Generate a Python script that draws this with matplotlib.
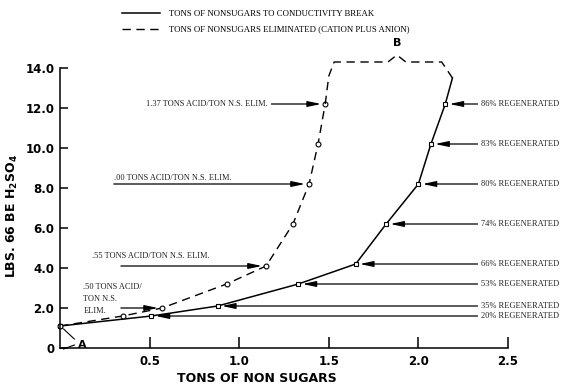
import matplotlib as mpl
mpl.use('Agg')
from matplotlib import pyplot as plt

# tons of nonsugars to conductivity break (solid, squares)
break_x = [0.0, 0.51, 0.88, 1.33, 1.65, 1.82, 2.00, 2.07, 2.15]
break_y = [1.1, 1.6, 2.1, 3.2, 4.2, 6.2, 8.2, 10.2, 12.2]
break_top = [2.19, 13.5]

# tons of nonsugars eliminated (dashed, circles)
elim_x = [0.0, 0.35, 0.57, 0.93, 1.15, 1.30, 1.39, 1.44, 1.48]
elim_y = [1.1, 1.6, 2.0, 3.2, 4.1, 6.2, 8.2, 10.2, 12.2]

# bracket joining the two curves at B
bracket_x = [1.48, 1.50, 1.53, 1.83, 1.88, 1.93, 2.13, 2.19]
bracket_y = [12.2, 13.6, 14.3, 14.3, 14.65, 14.3, 14.3, 13.5]

regen_labels = ['20% REGENERATED', '35% REGENERATED', '53% REGENERATED', '66% REGENERATED',
                '74% REGENERATED', '80% REGENERATED', '83% REGENERATED', '86% REGENERATED']

acid_labels = ['.50 TONS ACID/\nTON N.S.\nELIM.', '.55 TONS ACID/TON N.S. ELIM.',
               '.00 TONS ACID/TON N.S. ELIM.', '1.37 TONS ACID/TON N.S. ELIM.']
acid_points = [2, 4, 6, 8]

x_ticks = [0.5, 1.0, 1.5, 2.0, 2.5]
y_ticks = [0, 2, 4, 6, 8, 10, 12, 14]
y_ticklabels = ['0', '2.0', '4.0', '6.0', '8.0', '10.0', '12.0', '14.0']

small = dict(family='Liberation Serif', fontsize=6, color='#222222')
arrow = dict(arrowstyle='-|>,head_length=0.8,head_width=0.17', lw=0.9, color='black',
             shrinkA=0, shrinkB=3)

fig = plt.figure(figsize=(5.71, 3.85), dpi=100)
ax = fig.add_axes([60 / 571, 1 - 348 / 385, 448 / 571, 280 / 385])

ax.plot(break_x + [break_top[0]], break_y + [break_top[1]], color='black', lw=1.1,
        label='TONS OF NONSUGARS TO CONDUCTIVITY BREAK', clip_on=False)
ax.plot(break_x, break_y, 's', ms=3.5, mfc='white', mec='black', mew=0.8, clip_on=False)
ax.plot(elim_x, elim_y, color='black', lw=1.0, dashes=(6, 4),
        label='TONS OF NONSUGARS ELIMINATED (CATION PLUS ANION)', clip_on=False)
ax.plot(elim_x, elim_y, 'o', ms=3.5, mfc='white', mec='black', mew=0.8, clip_on=False)
ax.plot(bracket_x, bracket_y, color='black', lw=1.0, dashes=(6, 4), clip_on=False)
ax.text(1.88, 15.0, 'B', fontsize=8, fontweight='bold', ha='center', va='bottom')

# A marker near origin
ax.plot([0.02, 0.08], [0.95, 0.45], color='black', lw=0.8)
ax.plot([0.02, 0.08], [-0.05, 0.15], color='black', lw=0.8, clip_on=False)
ax.text(0.10, 0.15, 'A', fontsize=8, fontweight='bold', va='center')

# regeneration arrows (right side)
for lab, px, py in zip(regen_labels, break_x[1:], break_y[1:]):
    ax.annotate('', xy=(px, py), xytext=(2.33, py), arrowprops=arrow, annotation_clip=False)
    ax.text(2.35, py, lab, ha='left', va='center', **small)

# acid arrows (left side)
acid_start = [0.34, 0.34, 0.30, 1.18]
acid_text = [(0.13, 2.45, 'left', 'center'), (0.18, 4.6, 'left', 'center'),
             (0.30, 8.3, 'left', 'bottom'), (1.16, 12.2, 'right', 'center')]
for lab, idx, xs, (tx, ty, ha, va) in zip(acid_labels, acid_points, acid_start, acid_text):
    ax.annotate('', xy=(elim_x[idx], elim_y[idx]), xytext=(xs, elim_y[idx]), arrowprops=arrow)
    ax.text(tx, ty, lab, ha=ha, va=va, linespacing=1.6, **small)

ax.set_xlim(0, 2.5)
ax.set_ylim(0, 14)
ax.spines['top'].set_visible(False)
ax.spines['right'].set_visible(False)
ax.spines['left'].set_linewidth(1.1)
ax.spines['bottom'].set_linewidth(1.1)
ax.set_xticks(x_ticks)
ax.set_xticklabels(['%.1f' % v for v in x_ticks])
ax.set_yticks(y_ticks)
ax.set_yticklabels(y_ticklabels)
ax.tick_params(axis='both', direction='in', width=1.1, labelsize=8.5)
ax.tick_params(axis='x', length=8, pad=5)
ax.tick_params(axis='y', length=6, pad=4)
for t in ax.get_xticklabels() + ax.get_yticklabels():
    t.set_fontweight('bold')

ax.set_xlabel('TONS OF NON SUGARS', fontsize=9, fontweight='bold', labelpad=3, x=0.44)
ax.set_ylabel('LBS. 66 BE H$_\\mathbf{2}$SO$_\\mathbf{4}$', fontsize=9, fontweight='bold',
              labelpad=4, y=0.47)

ax.legend(loc='upper left', bbox_to_anchor=(118 / 571, 1 - 6 / 385), bbox_transform=fig.transFigure,
          frameon=False, borderpad=0, handlelength=4.3, handletextpad=1.0, labelspacing=0.8,
          prop=dict(family='Liberation Serif', size=6.3))

plt.savefig('out.png', dpi=100)
